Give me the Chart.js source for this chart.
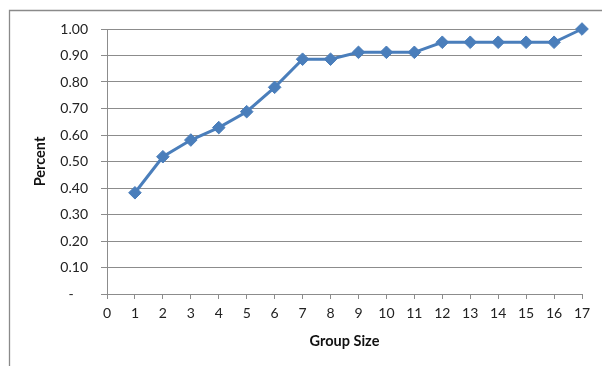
<!DOCTYPE html>
<html>
<head>
<meta charset="utf-8">
<script src="https://cdn.jsdelivr.net/npm/chart.js@4/dist/chart.umd.min.js"></script>
<style>
  html, body { margin: 0; padding: 0; background: #fff; }
  #wrap { width: 602px; height: 366px; position: relative; }
</style>
</head>
<body>
<div id="wrap"><canvas id="c" width="602" height="366"></canvas></div>
<script>
// Share of cases by group size
const groupSizes = [1, 2, 3, 4, 5, 6, 7, 8, 9, 10, 11, 12, 13, 14, 15, 16, 17];
const percentValues = [0.382, 0.518, 0.581, 0.628, 0.688, 0.780, 0.886, 0.886, 0.912, 0.912, 0.912, 0.950, 0.950, 0.950, 0.950, 0.950, 1.000];
const xTickValues = [0, 1, 2, 3, 4, 5, 6, 7, 8, 9, 10, 11, 12, 13, 14, 15, 16, 17];

const FONT = "Lato, 'Open Sans', sans-serif";
const GRID = '#8c8c8c';

// Outer frame around the chart
const framePlugin = {
  id: 'frame',
  beforeDraw(chart) {
    const ctx = chart.ctx;
    ctx.save();
    ctx.fillStyle = '#fff';
    ctx.fillRect(0, 0, chart.width, chart.height);
    ctx.strokeStyle = '#8a8a8a';
    ctx.lineWidth = 1.3;
    ctx.beginPath();
    ctx.moveTo(9.5, chart.height + 2);
    ctx.lineTo(9.5, 10.5);
    ctx.lineTo(chart.width + 2, 10.5);
    ctx.stroke();
    ctx.restore();
  }
};

new Chart(document.getElementById('c'), {
  type: 'line',
  data: {
    datasets: [{
      data: groupSizes.map((g, i) => ({ x: g, y: percentValues[i] })),
      borderColor: '#4a7ebb',
      backgroundColor: '#4a7ebb',
      borderWidth: 3,
      pointStyle: 'rectRot',
      pointRadius: 6.3,
      pointBorderWidth: 1,
      pointBorderColor: '#4a7ebb',
      pointBackgroundColor: '#4a7ebb',
      tension: 0,
      clip: false
    }]
  },
  options: {
    responsive: false,
    animation: false,
    devicePixelRatio: 1,
    layout: { padding: { left: 28, top: 29, right: 20, bottom: 12 } },
    plugins: { legend: { display: false }, tooltip: { enabled: false } },
    scales: {
      x: {
        type: 'linear',
        min: 0,
        max: 17,
        afterBuildTicks(scale) { scale.ticks = xTickValues.map(v => ({ value: v })); },
        afterFit(scale) { scale.height = 60; },
        border: { display: true, color: GRID, width: 1 },
        grid: { drawOnChartArea: false, drawTicks: true, tickLength: 5, color: GRID },
        ticks: { color: '#222', padding: 6, font: { family: FONT, size: 14 }, maxRotation: 0, autoSkip: false },
        title: { display: true, text: 'Group Size', color: '#111', padding: { top: 4, bottom: 4 }, font: { family: FONT, size: 14.5, weight: 'bold' } }
      },
      y: {
        min: 0,
        max: 1,
        afterFit(scale) { scale.width = 79; },
        border: { display: true, color: GRID, width: 1 },
        grid: { color: GRID, tickLength: 6, drawTicks: true },
        ticks: {
          stepSize: 0.1,
          color: '#222',
          padding: 13,
          font: { family: FONT, size: 14 },
          callback: v => Math.abs(v) < 1e-9 ? '-    ' : v.toFixed(2)
        },
        title: { display: true, text: 'Percent', color: '#111', padding: { top: 4, bottom: 4 }, font: { family: FONT, size: 14.5, weight: 'bold' } }
      }
    }
  },
  plugins: [framePlugin]
});
</script>
</body>
</html>
